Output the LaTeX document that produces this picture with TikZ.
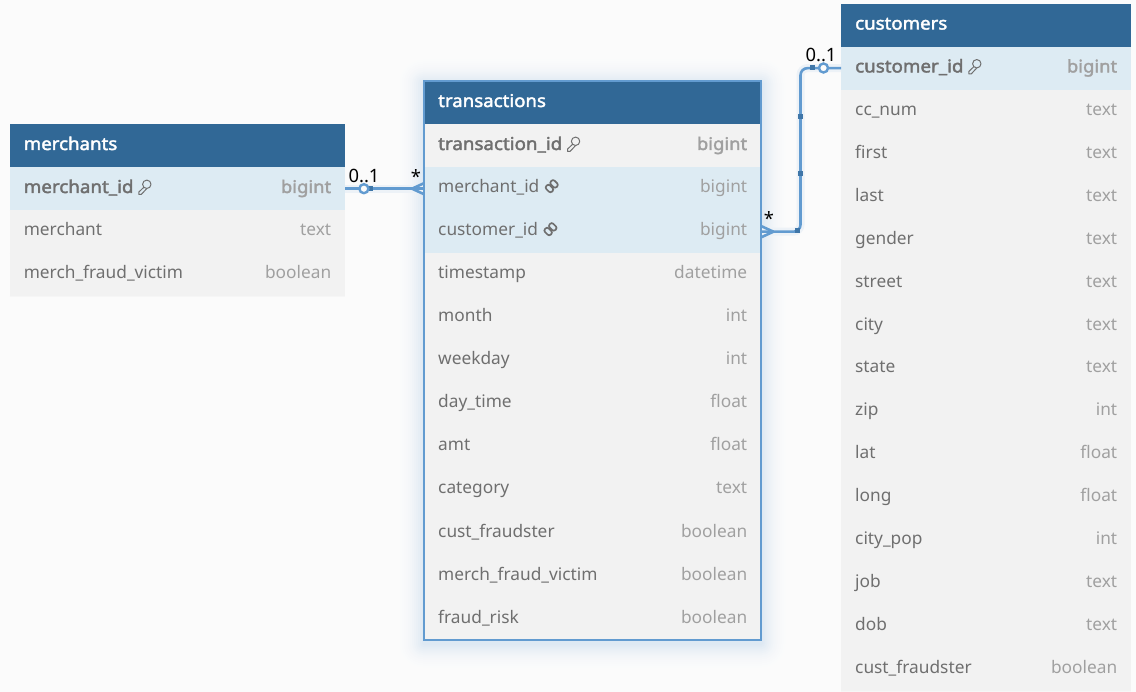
\documentclass[tikz,border=0pt]{standalone}
\usepackage{fontspec}
\setmainfont{Noto Sans}[BoldFont={Noto Sans}, BoldFeatures={FakeBold=2.2, FakeStretch=1.06}]
\usetikzlibrary{calc}

\definecolor{pagebg}{HTML}{FBFBFB}
\definecolor{headblue}{HTML}{316896}
\definecolor{keyrowbg}{HTML}{DDEBF3}
\definecolor{rowbg}{HTML}{F2F2F2}
\definecolor{rowsep}{HTML}{F6F6F6}
\definecolor{coltext}{HTML}{6F6F6F}
\definecolor{typetext}{HTML}{A0A0A0}
\definecolor{relblue}{HTML}{629BD0}
\definecolor{reldot}{HTML}{3F76A8}

\tikzset{
    rowbox/.style={rectangle, inner sep=0pt, minimum height=43pt, anchor=north west},
    headbox/.style={rowbox, fill=headblue},
    headtext/.style={anchor=base west, inner sep=0pt, text=white, font=\fontsize{17.6}{20}\selectfont\bfseries},
    plain row/.style={fill=rowbg},
    fk row/.style={fill=keyrowbg},
    pk row/.style={fill=keyrowbg},
    pkt row/.style={fill=rowbg},
    plain col/.style={anchor=base west, inner sep=0pt, text=coltext, font=\fontsize{17.3}{20}\selectfont},
    fk col/.style={plain col},
    pk col/.style={plain col, font=\fontsize{17.7}{20}\selectfont\bfseries},
    pkt col/.style={pk col},
    plain type/.style={anchor=base east, inner sep=0pt, text=typetext, font=\fontsize{17.3}{20}\selectfont},
    fk type/.style={plain type},
    pk type/.style={plain type, font=\fontsize{17.4}{20}\selectfont\bfseries},
    pkt type/.style={pk type},
    rel/.style={draw=relblue, line width=2.6pt},
    relglow/.style={draw=relblue!9!pagebg, line width=8pt},
    reldotbox/.style={rectangle, fill=reldot, inner sep=0pt, minimum size=5pt},
    relring/.style={circle, draw=relblue, fill=pagebg, line width=2.4pt, inner sep=0pt, minimum size=9pt},
    cardtext/.style={inner sep=0pt, text=black, font=\fontsize{18.4}{20}\selectfont},
}

% small icons behind the column name
\newcommand{\iconplain}[1]{}
\newcommand{\iconpk}[1]{
    \begin{scope}[shift={($(#1)+(4.5,-4.5)$)}, draw=coltext, line width=1pt, line join=round]
        \draw (8.6,-4.2) circle (4.2pt);
        \draw (5.8,-1.4) -- (0.6,3.6) -- (0.6,6) -- (3,6) -- (8.4,0.3);
    \end{scope}
}
\newcommand{\iconpkt}[1]{\iconpk{#1}}
\newcommand{\iconfk}[1]{
    \begin{scope}[shift={($(#1)+(5.5,-5.5)$)}, draw=coltext, line width=1.7pt, line cap=round]
        \draw[rotate around={-45:(4.4,1)}, rounded corners=2.2pt] (0.4,-1.6) rectangle (8.4,3.6);
        \draw[rotate around={-45:(9,-3.6)}, rounded corners=2.2pt] (5,-6.2) rectangle (13,-1);
    \end{scope}
}

% name, x, y, width, row step, title, rows
\newcommand{\dbtable}[7]{
    \node[headbox, minimum width=#4pt] (#1-head) at (#2,#3) {};
    \node[headtext] (#1-title) at ($(#1-head.west)+(14,4.3)$) {#6};
    \foreach \i/\col/\typ/\k in {#7} {
        \node[rowbox, \k\space row, minimum width=#4pt] (#1-\i) at (#2,#3+\i*#5) {};
        \node[\k\space col] (#1-\i-col) at ($(#1-\i.west)+(14,4.3)$) {\col};
        \node[\k\space type] (#1-\i-type) at ($(#1-\i.east)+(-14,4.3)$) {\typ};
        \csname icon\k\endcsname{#1-\i-col.base east}
        \draw[rowsep, line width=0.6pt] (#1-\i.south west) -- (#1-\i.south east);
    }
}

\begin{document}
\begin{tikzpicture}[x=1pt, y=-1pt]

    \useasboundingbox (0,0) rectangle (1136,692);
    \fill[pagebg] (0,0) rectangle (1136,692);

    % soft glow round the selected table
    \foreach \r in {26,24,...,2} {
        \pgfmathsetmacro{\glow}{22*(1-\r/28)*(1-\r/28)}
        \fill[relblue!\glow!pagebg, rounded corners=\r pt] (424-\r,81-\r+3) rectangle (761+\r,640+\r+3);
    }

    \dbtable{merchants}{9.6}{124}{335.4}{43}{merchants}{
        1/merchant\_id/bigint/pk,
        2/merchant/text/plain,
        3/merch\_fraud\_victim/boolean/plain}

    \dbtable{transactions}{424}{81}{337}{43}{transactions}{
        1/transaction\_id/bigint/pkt,
        2/merchant\_id/bigint/fk,
        3/customer\_id/bigint/fk,
        4/timestamp/datetime/plain,
        5/month/int/plain,
        6/weekday/int/plain,
        7/day\_time/float/plain,
        8/amt/float/plain,
        9/category/text/plain,
        10/cust\_fraudster/boolean/plain,
        11/merch\_fraud\_victim/boolean/plain,
        12/fraud\_risk/boolean/plain}

    \dbtable{customers}{841}{3.5}{290}{42.93}{customers}{
        1/customer\_id/bigint/pk,
        2/cc\_num/text/plain,
        3/first/text/plain,
        4/last/text/plain,
        5/gender/text/plain,
        6/street/text/plain,
        7/city/text/plain,
        8/state/text/plain,
        9/zip/int/plain,
        10/lat/float/plain,
        11/long/float/plain,
        12/city\_pop/int/plain,
        13/job/text/plain,
        14/dob/text/plain,
        15/cust\_fraudster/boolean/plain}

    \coordinate (midc) at (800.5,150);
    \draw[relglow] (merchants-1.east) -- (transactions-2.west);
    \draw[relglow, rounded corners=7pt] (transactions-3.east) -| (midc) |- (customers-1.west);

    \draw[relblue, line width=2pt] (transactions-head.north west) rectangle (transactions-12.south east);

    % merchants to transactions
    \draw[rel] (merchants-1.east) -- (transactions-2.west);
    \node[reldotbox] (dotm) at ($(merchants-1.east)+(25,0)$) {};
    \node[relring] (ringm) at ($(merchants-1.east)+(18.5,0)$) {};
    \coordinate (tipm) at ($(transactions-2.west)+(-12,0)$);
    \draw[rel] (tipm) -- ($(transactions-2.west)+(0,-5.5)$);
    \draw[rel] (tipm) -- ($(transactions-2.west)+(0,5.5)$);
    \node[cardtext] (cardm1) at (364,176) {0..1};
    \node[cardtext] (cardm2) at (416,177) {*};

    % customers to transactions
    \draw[rel, rounded corners=7pt] (transactions-3.east) -| (midc) |- (customers-1.west);
    \node[reldotbox] (dotc1) at (797.5,231) {};
    \node[reldotbox] (dotc2) at (800.5,174) {};
    \node[reldotbox] (dotc3) at (800.5,116.5) {};
    \node[reldotbox] (dotc4) at (812,68) {};
    \node[relring] (ringc) at (823.5,68) {};
    \coordinate (tipc) at ($(transactions-3.east)+(12,0)$);
    \draw[rel] (tipc) -- ($(transactions-3.east)+(0,-5.5)$);
    \draw[rel] (tipc) -- ($(transactions-3.east)+(0,5.5)$);
    \node[cardtext] (cardc1) at (821,55) {0..1};
    \node[cardtext] (cardc2) at (769,219) {*};

\end{tikzpicture}
\end{document}
